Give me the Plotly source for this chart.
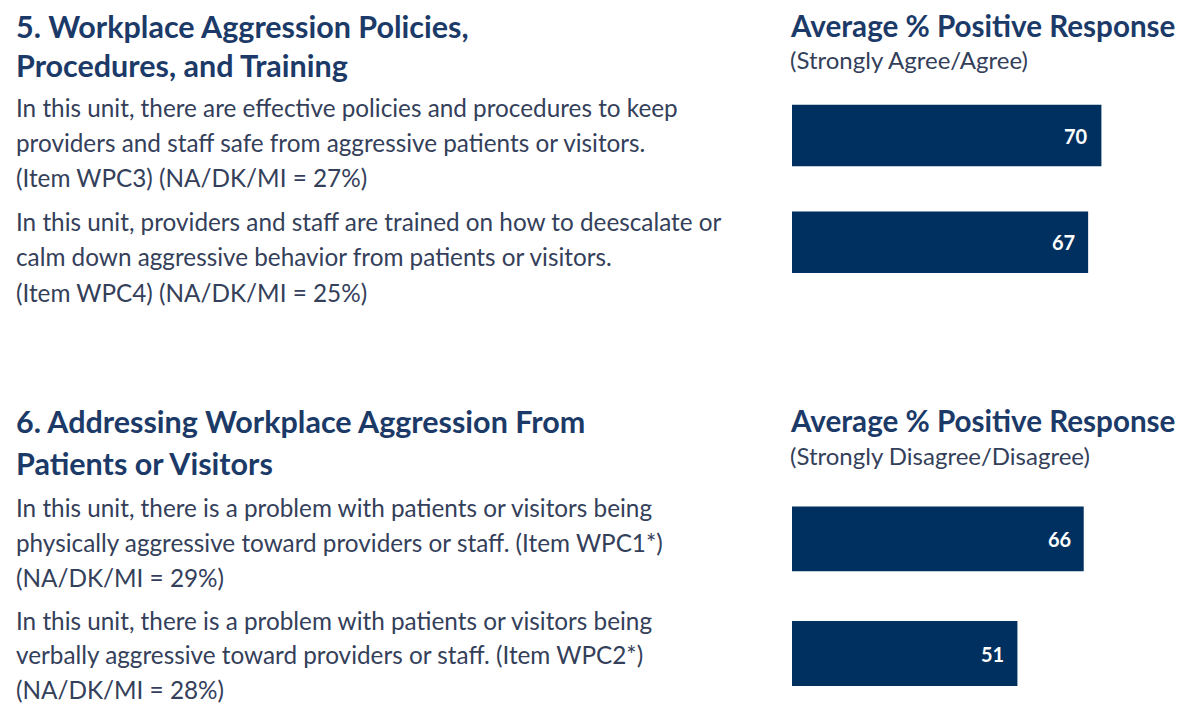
import plotly.graph_objects as go

# page shows the figure with an 8px body margin; figure covers the rest of the window
OFF = 8
W, H = 1190 - OFF, 704 - OFF

# ---- data ----
sec1_items = ["WPC3", "WPC4"]
sec1_values = [70, 67]
sec2_items = ["WPC1", "WPC2"]
sec2_values = [66, 51]

sec1_title = ["5. Workplace Aggression Policies,", "Procedures, and Training"]
sec2_title = ["6. Addressing Workplace Aggression From", "Patients or Visitors"]
sec1_texts = [
    ["In this unit, there are effective policies and procedures to keep",
     "providers and staff safe from aggressive patients or visitors.",
     "(Item WPC3) (NA/DK/MI = 27%)"],
    ["In this unit, providers and staff are trained on how to deescalate or",
     "calm down aggressive behavior from patients or visitors.",
     "(Item WPC4) (NA/DK/MI = 25%)"],
]
sec2_texts = [
    ["In this unit, there is a problem with patients or visitors being",
     "physically aggressive toward providers or staff. (Item WPC1*)",
     "(NA/DK/MI = 29%)"],
    ["In this unit, there is a problem with patients or visitors being",
     "verbally aggressive toward providers or staff. (Item WPC2*)",
     "(NA/DK/MI = 28%)"],
]
chart_header = "Average % Positive Response"
sec1_sub = "(Strongly Agree/Agree)"
sec2_sub = "(Strongly Disagree/Disagree)"

# ---- style ----
BAR = "#00305F"
HEAD = "#1C3A68"
BODY = "#34405A"
FONT = "Lato"
HEAD_SIZE = 30.5
CHART_HEAD_SIZE = 29.6
BODY_SIZE = 24.3
SUB_SIZE = 24
VAL_SIZE = 20

fig = go.Figure()
fig.add_trace(go.Bar(x=sec1_values, y=sec1_items, orientation="h", width=0.575,
                     marker=dict(color=BAR, line=dict(width=0)),
                     xaxis="x", yaxis="y", hoverinfo="skip"))
fig.add_trace(go.Bar(x=sec2_values, y=sec2_items, orientation="h", width=0.565,
                     marker=dict(color=BAR, line=dict(width=0)),
                     xaxis="x", yaxis="y2", hoverinfo="skip"))

PX_PER_UNIT = 4.42
X0 = 792 - OFF


def yrange(c0, spacing):
    top = -(c0 - OFF) / spacing
    bottom = top + H / spacing
    return [bottom, top]


fig.update_layout(
    width=W, height=H,
    margin=dict(l=0, r=0, t=0, b=0),
    paper_bgcolor="white", plot_bgcolor="white",
    showlegend=False,
    xaxis=dict(domain=[X0 / W, 1], range=[0, (W - X0) / PX_PER_UNIT], visible=False, fixedrange=True),
    yaxis=dict(domain=[0, 1], type="category", categoryarray=sec1_items,
               range=yrange(135.5, 106.8), visible=False, fixedrange=True),
    yaxis2=dict(domain=[0, 1], type="category", categoryarray=sec2_items,
                range=yrange(538.8, 114.7), visible=False, fixedrange=True,
                overlaying="y", anchor="x"),
)

ann = []


def txt(s, x, yc, size, color, bold=False):
    ann.append(dict(text=("<b>%s</b>" % s) if bold else s,
                    x=(x - OFF) / W, y=1 - (yc - OFF) / H, xref="paper", yref="paper",
                    xanchor="left", yanchor="middle", showarrow=False, borderpad=0,
                    font=dict(family=FONT, size=size, color=color)))


LX = 15
# section 1
txt(sec1_title[0], LX, 26, HEAD_SIZE, HEAD, True)
txt(sec1_title[1], LX, 65, HEAD_SIZE, HEAD, True)
for block, y0 in zip(sec1_texts, [107, 221.5]):
    for i, line in enumerate(block):
        txt(line, LX, y0 + i * 35.3, BODY_SIZE, BODY)
# section 2
txt(sec2_title[0], LX, 421, HEAD_SIZE, HEAD, True)
txt(sec2_title[1], LX, 463, HEAD_SIZE, HEAD, True)
for block, (y0, dy) in zip(sec2_texts, [(507, 35.3), (620.5, 34.3)]):
    for i, line in enumerate(block):
        txt(line, LX, y0 + i * dy, BODY_SIZE, BODY)
# chart headers
txt(chart_header, 789, 26, CHART_HEAD_SIZE, HEAD, True)
txt(sec1_sub, 789, 60, SUB_SIZE, BODY)
txt(chart_header, 789, 420, CHART_HEAD_SIZE, HEAD, True)
txt(sec2_sub, 789, 455, SUB_SIZE, BODY)

# value labels
for v, c in zip(sec1_values, sec1_items):
    ann.append(dict(text="<b>%d</b>" % v, x=v, y=c, xref="x", yref="y",
                    xanchor="right", yanchor="middle", xshift=-11, showarrow=False,
                    font=dict(family=FONT, size=VAL_SIZE, color="white")))
for v, c in zip(sec2_values, sec2_items):
    ann.append(dict(text="<b>%d</b>" % v, x=v, y=c, xref="x", yref="y2",
                    xanchor="right", yanchor="middle", xshift=-11, showarrow=False,
                    font=dict(family=FONT, size=VAL_SIZE, color="white")))

fig.update_layout(annotations=ann)
fig.write_html("out.html", config={"displayModeBar": False})
